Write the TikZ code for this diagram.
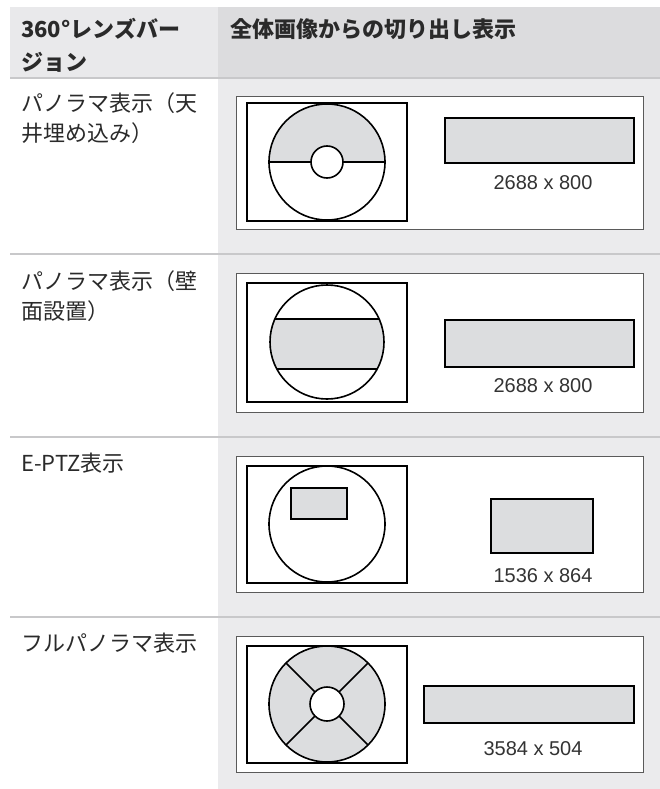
\documentclass[tikz,border=0pt]{standalone}
\usepackage{fontspec}
\setmainfont{Noto Sans CJK JP}
\newfontfamily\numfont{Liberation Sans}
\usepackage{tikz}

\definecolor{hdrleft}{HTML}{E9E9EB}
\definecolor{hdrright}{HTML}{DCDCDE}
\definecolor{colbody}{HTML}{EBEBED}
\definecolor{rulegray}{HTML}{C8C8CA}
\definecolor{cropgray}{HTML}{DCDDDF}
\definecolor{boxedge}{HTML}{5A5A5A}
\definecolor{labeltext}{HTML}{2A2A2A}
\definecolor{numtext}{HTML}{333333}

\tikzset{
  lbl/.style={anchor=base west, inner sep=0pt, text=labeltext, font=\fontsize{22}{30}\selectfont},
  hdr/.style={lbl, font=\fontsize{22}{33}\selectfont\bfseries},
  dims/.style={inner sep=0pt, text=numtext, font=\numfont\fontsize{20}{24}\selectfont},
  viewbox/.style={fill=white, draw=boxedge, line width=0.9pt},
  outline/.style={draw=black, line width=1.6pt},
}

\begin{document}
\begin{tikzpicture}[x=1pt,y=-1pt]
\useasboundingbox (0,0) rectangle (660,789);

\fill[colbody] (218,78) rectangle (660,789);
\fill[hdrleft] (10,7) rectangle (218,78);
\fill[hdrright] (218,7) rectangle (660,78);
\foreach \y in {78,254,437,617}
  \draw[rulegray, line width=2.2pt] (10,\y) -- (660,\y);

\node[hdr] (hdrlens) at (21,38) {360°レンズバー};
\node[hdr] (hdrlensb) at (21,71) {ジョン};
\node[hdr] (hdrcrop) at (230,38) {全体画像からの切り出し表示};

\node[lbl] (ceila) at (21,111) {パノラマ表示（天};
\node[lbl] (ceilb) at (21,141) {井埋め込み）};
\node[lbl] (walla) at (21,289) {パノラマ表示（壁};
\node[lbl] (wallb) at (21,319) {面設置）};
\node[lbl] (eptz) at (21,471) {E-PTZ表示};
\node[lbl] (fullpano) at (21,651) {フルパノラマ表示};

\coordinate (ctrceil) at (327,162);
\path[viewbox] (236,96) rectangle (643,229);
\begin{scope}
\clip (247,103) rectangle (407,162);
\fill[cropgray] (ctrceil) circle (58pt);
\end{scope}
\draw[outline] (269,162) -- (385,162);
\draw[outline, fill=white] (ctrceil) circle (16pt);
\draw[outline] (ctrceil) circle (58pt);
\draw[outline] (247,103) rectangle (407,221);
\draw[outline, fill=cropgray] (445,118) rectangle (634,163);
\node[dims] (resceil) at (543,183) {2688 x 800};

\coordinate (ctrwall) at (327,342);
\path[viewbox] (236,273) rectangle (643,412);
\begin{scope}
\clip (ctrwall) circle (57pt);
\fill[cropgray] (260,319) rectangle (400,369);
\draw[outline] (260,319) -- (400,319) (260,369) -- (400,369);
\end{scope}
\draw[outline] (ctrwall) circle (57pt);
\draw[outline] (247,283) rectangle (407,402);
\draw[outline, fill=cropgray] (445,320) rectangle (634,367);
\node[dims] (reswall) at (543,386) {2688 x 800};

\coordinate (ctreptz) at (327,524);
\path[viewbox] (236,456) rectangle (643,592);
\draw[outline] (ctreptz) circle (58pt);
\draw[outline, fill=cropgray] (291,488) rectangle (347,519);
\draw[outline] (247,466) rectangle (407,583);
\draw[outline, fill=cropgray] (491,499) rectangle (593,553);
\node[dims] (reseptz) at (543,576) {1536 x 864};

\coordinate (ctrfull) at (327,704);
\path[viewbox] (236,636) rectangle (643,772);
\draw[outline, fill=cropgray] (ctrfull) circle (58pt);
\draw[outline, fill=white] (ctrfull) circle (17pt);
\foreach \a in {45,135,225,315}
  \draw[outline] (ctrfull) ++(\a:17pt) -- ++(\a:41pt);
\draw[outline] (247,646) rectangle (407,763);
\draw[outline, fill=cropgray] (424,686) rectangle (634,723);
\node[dims] (resfull) at (533,749) {3584 x 504};
\end{tikzpicture}
\end{document}
